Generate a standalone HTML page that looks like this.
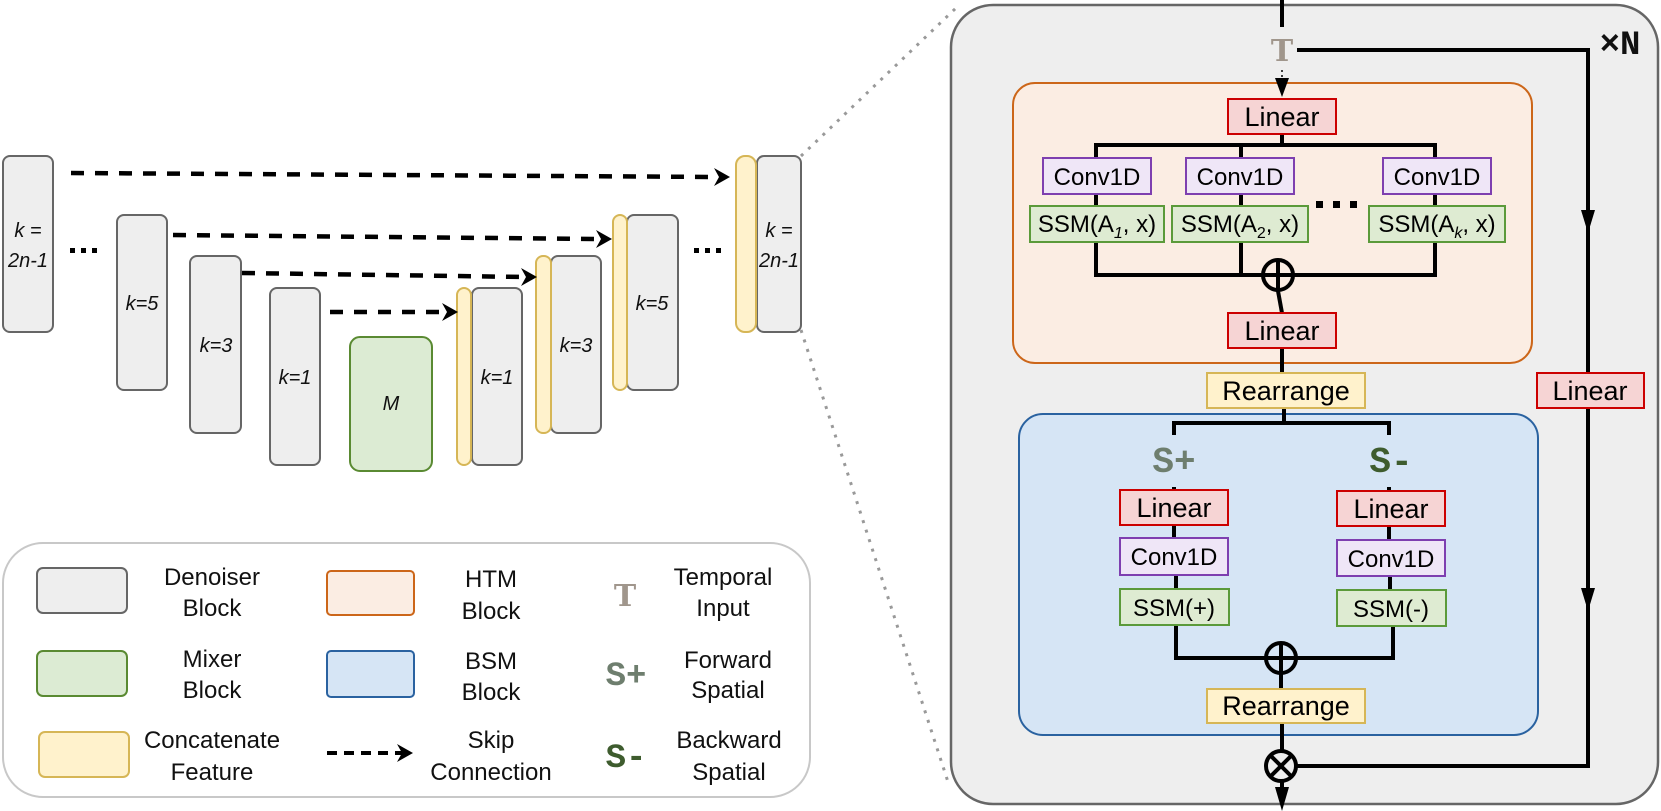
<!DOCTYPE html>
<html><head><meta charset="utf-8"><style>
html,body{margin:0;padding:0;background:#fff;}
svg{display:block;}
text{font-family:"Liberation Sans",sans-serif;}
.m{font-family:"Liberation Mono",monospace;font-weight:bold;}
.t{font-family:"DejaVu Serif","Liberation Serif",serif;font-weight:bold;}
</style></head><body>
<svg width="1661" height="811" viewBox="0 0 1661 811" xmlns="http://www.w3.org/2000/svg">
<!-- dotted zoom lines -->
<line x1="801" y1="156" x2="956" y2="8" stroke="#999" stroke-width="3" stroke-dasharray="3 7"/>
<line x1="801" y1="330" x2="949" y2="785" stroke="#999" stroke-width="3" stroke-dasharray="3 7"/>

<!-- left U-net -->
<g stroke="#666" stroke-width="2" fill="#eeeeee">
<rect x="3" y="156" width="50" height="176" rx="7"/>
<rect x="117" y="215" width="50" height="175" rx="7"/>
<rect x="190" y="256" width="51" height="177" rx="7"/>
<rect x="270" y="288" width="50" height="177" rx="7"/>
<rect x="472" y="288" width="50" height="177" rx="7"/>
<rect x="551" y="256" width="50" height="177" rx="7"/>
<rect x="627" y="215" width="51" height="175" rx="7"/>
<rect x="757" y="156" width="44" height="176" rx="7"/>
</g>
<rect x="350" y="337" width="82" height="134" rx="10" fill="#dcebd3" stroke="#5a8a32" stroke-width="2"/>
<g stroke="#d6b656" stroke-width="2" fill="#fff2cc">
<rect x="457" y="288" width="14" height="177" rx="7"/>
<rect x="536" y="256" width="15" height="177" rx="7"/>
<rect x="613" y="215" width="14" height="175" rx="7"/>
<rect x="736" y="156" width="20" height="176" rx="9"/>
</g>
<g font-style="italic" font-size="20" text-anchor="middle" fill="#111">
<text x="28" y="237">k =</text><text x="28" y="267">2n-1</text>
<text x="142" y="310">k=5</text>
<text x="216" y="352">k=3</text>
<text x="295" y="384">k=1</text>
<text x="391" y="410">M</text>
<text x="497" y="384">k=1</text>
<text x="576" y="352">k=3</text>
<text x="652" y="310">k=5</text>
<text x="779" y="237">k =</text><text x="779" y="267">2n-1</text>
</g>
<g fill="#000">
<rect x="70" y="248" width="5" height="5"/><rect x="81" y="248" width="5" height="5"/><rect x="92" y="248" width="5" height="5"/>
<rect x="694" y="248" width="5" height="5"/><rect x="705" y="248" width="5" height="5"/><rect x="716" y="248" width="5" height="5"/>
</g>
<g stroke="#000" stroke-width="4.5" stroke-dasharray="13 11" fill="none">
<line x1="71" y1="173" x2="718" y2="177"/>
<line x1="173" y1="235" x2="600" y2="239"/>
<line x1="242" y1="273" x2="525" y2="277"/>
<line x1="330" y1="312" x2="446" y2="312"/>
</g>
<g fill="#000">
<path d="M730,177 L714,168 L719,177 L714,186 Z"/>
<path d="M612,239 L596,230 L601,239 L596,248 Z"/>
<path d="M537,277 L521,268 L526,277 L521,286 Z"/>
<path d="M458,312 L442,303 L447,312 L442,321 Z"/>
</g>

<!-- legend -->
<path d="M45,543 H770 A40,40 0 0 1 810,583 V757 A40,40 0 0 1 770,797 H43 A40,40 0 0 1 3,757 V583 A40,40 0 0 1 43,543 Z" fill="#fff" stroke="#c8c8c8" stroke-width="2"/>
<rect x="37" y="568" width="90" height="45" rx="6" fill="#eeeeee" stroke="#666" stroke-width="2"/>
<rect x="37" y="651" width="90" height="45" rx="6" fill="#dcebd3" stroke="#5a8a32" stroke-width="2"/>
<rect x="39" y="732" width="90" height="45" rx="6" fill="#fff2cc" stroke="#d6b656" stroke-width="2"/>
<rect x="327" y="571" width="87" height="44" rx="4" fill="#fbede3" stroke="#cc6619" stroke-width="2"/>
<rect x="327" y="651" width="87" height="46" rx="4" fill="#d6e5f5" stroke="#2a62a0" stroke-width="2"/>
<line x1="327" y1="753" x2="402" y2="753" stroke="#000" stroke-width="4" stroke-dasharray="10 7"/>
<path d="M413,753 L397,744 L402,753 L397,762 Z" fill="#000"/>
<g font-size="24" text-anchor="middle" fill="#111">
<text x="212" y="585">Denoiser</text><text x="212" y="616">Block</text>
<text x="212" y="667">Mixer</text><text x="212" y="698">Block</text>
<text x="212" y="748">Concatenate</text><text x="212" y="780">Feature</text>
<text x="491" y="587">HTM</text><text x="491" y="619">Block</text>
<text x="491" y="669">BSM</text><text x="491" y="700">Block</text>
<text x="491" y="748">Skip</text><text x="491" y="780">Connection</text>
<text x="723" y="585">Temporal</text><text x="723" y="616">Input</text>
<text x="728" y="668">Forward</text><text x="728" y="698">Spatial</text>
<text x="729" y="748">Backward</text><text x="729" y="780">Spatial</text>
</g>
<text class="t" x="625" y="606" font-size="30" text-anchor="middle" fill="#a0968c">T</text>
<text class="m" x="626" y="685" font-size="34" text-anchor="middle" fill="#6e7e6e">S+</text>
<text class="m" x="626" y="767" font-size="34" text-anchor="middle" fill="#3e5c2e">S-</text>

<!-- right panel -->
<rect x="951" y="5" width="707" height="799" rx="42" fill="#eeeeee" stroke="#666" stroke-width="2.5"/>
<rect x="1013" y="83" width="519" height="280" rx="22" fill="#fbede3" stroke="#cc6619" stroke-width="2"/>
<rect x="1019" y="414" width="519" height="321" rx="24" fill="#d6e5f5" stroke="#2a62a0" stroke-width="2"/>

<g stroke="#000" stroke-width="4" fill="none">
<line x1="1282" y1="0" x2="1282" y2="27"/>
<polyline points="1297,50 1588,50 1588,766 1296,766"/>
<line x1="1282" y1="134" x2="1282" y2="145"/>
<polyline points="1096,158 1096,145 1435,145 1435,158"/>
<line x1="1241" y1="145" x2="1241" y2="158"/>
<line x1="1096" y1="194" x2="1096" y2="206"/>
<line x1="1241" y1="194" x2="1241" y2="206"/>
<line x1="1435" y1="194" x2="1435" y2="206"/>
<polyline points="1096,242 1096,275 1435,275 1435,242"/>
<line x1="1241" y1="242" x2="1241" y2="275"/>
<line x1="1278" y1="291" x2="1282" y2="313"/>
<line x1="1282" y1="348" x2="1282" y2="373"/>
<line x1="1284" y1="408" x2="1284" y2="423"/>
<polyline points="1174,435 1174,423 1389,423 1389,435"/>
<line x1="1174" y1="487" x2="1174" y2="490"/>
<line x1="1389" y1="487" x2="1389" y2="491"/>
<line x1="1174" y1="525" x2="1174" y2="538"/>
<line x1="1389" y1="526" x2="1389" y2="540"/>
<line x1="1176" y1="575" x2="1176" y2="589"/>
<line x1="1390" y1="576" x2="1390" y2="590"/>
<polyline points="1176,625 1176,658 1393,658 1393,626"/>
<line x1="1281" y1="674" x2="1281" y2="689"/>
<line x1="1282" y1="723" x2="1282" y2="750"/>
<line x1="1282" y1="782" x2="1282" y2="795"/>
</g>
<line x1="1282" y1="70" x2="1282" y2="80" stroke="#000" stroke-width="1.5" stroke-dasharray="2 3"/>
<g fill="#000">
<path d="M1275,78 L1289,78 L1282,97 Z"/>
<path d="M1581,210 L1595,210 L1588,233 Z"/>
<path d="M1581,588 L1595,588 L1588,611 Z"/>
<path d="M1275,787 L1289,787 L1282,811 Z"/>
</g>
<g stroke="#000" stroke-width="4" fill="none">
<circle cx="1278" cy="275" r="15"/><line x1="1278" y1="260" x2="1278" y2="290"/><line x1="1263" y1="275" x2="1293" y2="275"/>
<circle cx="1281" cy="658" r="15"/><line x1="1281" y1="643" x2="1281" y2="673"/><line x1="1266" y1="658" x2="1296" y2="658"/>
<circle cx="1281" cy="766" r="15"/><line x1="1271" y1="756" x2="1291" y2="776"/><line x1="1291" y1="756" x2="1271" y2="776"/>
</g>
<text class="t" x="1282" y="61" font-size="30" text-anchor="middle" fill="#a0968c">T</text>
<text class="m" x="1620" y="54" font-size="34" text-anchor="middle" fill="#111">×N</text>
<text class="m" x="1174" y="472" font-size="36" text-anchor="middle" fill="#6e7e6e">S+</text>
<text class="m" x="1391" y="472" font-size="36" text-anchor="middle" fill="#3e5c2e">S-</text>
<g fill="#000"><rect x="1316" y="201" width="7" height="7"/><rect x="1333" y="201" width="7" height="7"/><rect x="1350" y="201" width="7" height="7"/></g>

<!-- red boxes -->
<g fill="#f6d4d4" stroke="#cc0000" stroke-width="2">
<rect x="1228" y="99" width="108" height="35"/>
<rect x="1228" y="313" width="108" height="35"/>
<rect x="1537" y="373" width="107" height="35"/>
<rect x="1120" y="490" width="108" height="35"/>
<rect x="1337" y="491" width="108" height="35"/>
</g>
<g fill="#efe6f7" stroke="#7e3fb0" stroke-width="2">
<rect x="1043" y="158" width="108" height="36"/>
<rect x="1186" y="158" width="108" height="36"/>
<rect x="1383" y="158" width="108" height="36"/>
<rect x="1120" y="538" width="108" height="37"/>
<rect x="1337" y="540" width="108" height="36"/>
</g>
<g fill="#deebd2" stroke="#5b9a3a" stroke-width="2">
<rect x="1030" y="206" width="134" height="36"/>
<rect x="1172" y="206" width="136" height="36"/>
<rect x="1369" y="206" width="136" height="36"/>
<rect x="1120" y="589" width="109" height="36"/>
<rect x="1337" y="590" width="109" height="36"/>
</g>
<g fill="#fff2cc" stroke="#d6b656" stroke-width="2">
<rect x="1207" y="373" width="158" height="35"/>
<rect x="1207" y="689" width="158" height="34"/>
</g>
<g font-size="27" text-anchor="middle" fill="#000">
<text x="1282" y="126">Linear</text>
<text x="1282" y="340">Linear</text>
<text x="1590" y="400">Linear</text>
<text x="1174" y="517">Linear</text>
<text x="1391" y="518">Linear</text>
<text x="1286" y="400">Rearrange</text>
<text x="1286" y="715">Rearrange</text>
</g>
<g font-size="24" text-anchor="middle" fill="#000">
<text x="1097" y="185">Conv1D</text>
<text x="1240" y="185">Conv1D</text>
<text x="1437" y="185">Conv1D</text>
<text x="1174" y="565">Conv1D</text>
<text x="1391" y="567">Conv1D</text>
<text x="1174" y="616">SSM(+)</text>
<text x="1391" y="617">SSM(-)</text>
<text x="1097" y="232">SSM(A<tspan font-size="16" dy="6" font-style="italic">1</tspan><tspan dy="-6">, x)</tspan></text>
<text x="1240" y="232">SSM(A<tspan font-size="16" dy="6">2</tspan><tspan dy="-6">, x)</tspan></text>
<text x="1437" y="232">SSM(A<tspan font-size="16" dy="6" font-style="italic">k</tspan><tspan dy="-6">, x)</tspan></text>
</g>
</svg>
</body></html>
